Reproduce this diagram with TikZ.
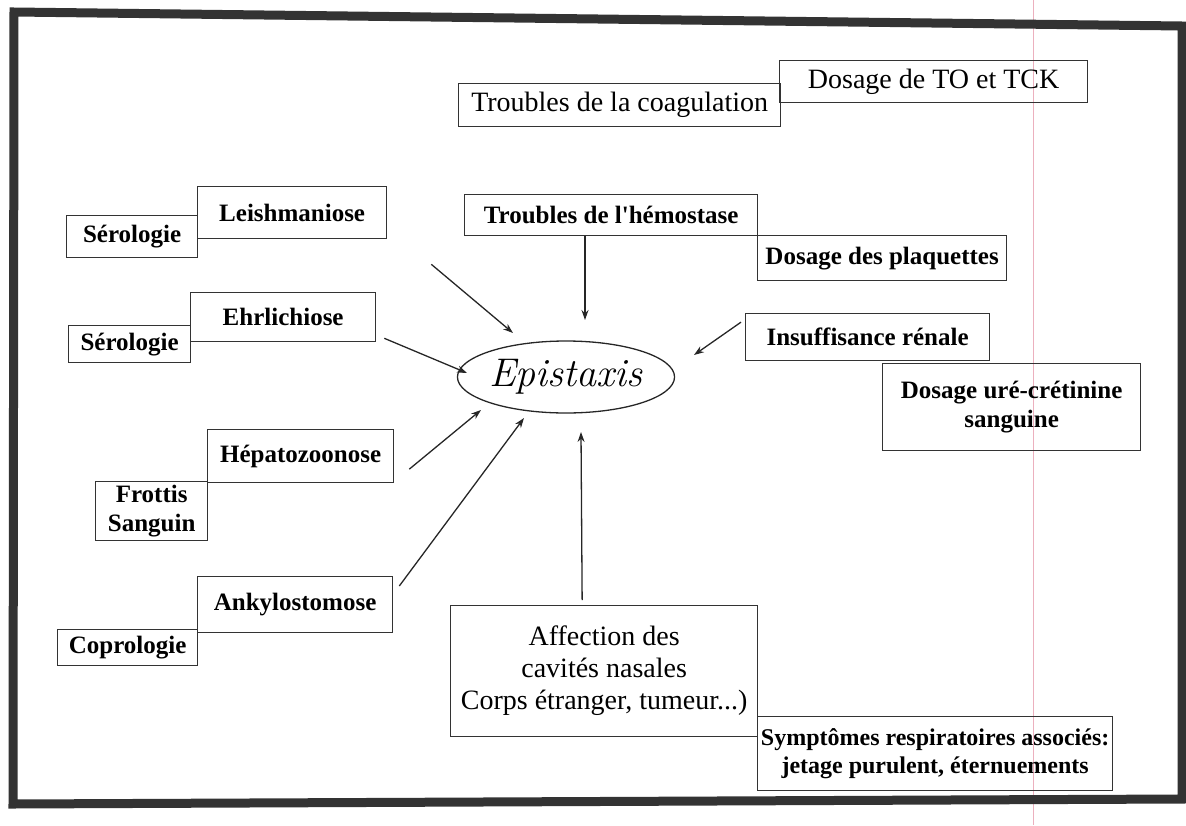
\documentclass[tikz,border=0pt]{standalone}
\usepackage{fontspec}
\setmainfont{Liberation Serif}
\newfontfamily\plainserif{Liberation Serif}
\usetikzlibrary{calc,arrows.meta,shapes.geometric}
\definecolor{marginpink}{RGB}{236,176,190}
\tikzset{
  box/.style={draw=black!80, line width=1.3pt, rectangle, inner sep=0pt,
    anchor=north west, align=center, font=\fontsize{25}{29}\selectfont\bfseries},
  plainbox/.style={box, font=\fontsize{28}{32}\selectfont},
  arr/.style={draw=black!85, line width=1.3pt, -{Stealth[length=10pt,width=7pt]}},
}

\begin{document}
\begin{tikzpicture}[x=1pt, y=-1pt]
		%%%%% START %%%%%
		\useasboundingbox (0,0) rectangle (1186,825);
		
		% scan frame and margin line
		\draw[marginpink, line width=0.8pt] (1033,0) -- (1033,825);
		\draw[line width=9pt, black!80] (14,12) -- (1182,26) -- (1182,799) -- (13,804) -- cycle;
		
		% centre
		\node[draw=black!85, line width=1.3pt, ellipse, inner sep=0pt,
		  minimum width=196pt, minimum height=72pt,
		  font=\fontsize{40}{44}\selectfont\fontfamily{lmr}\itshape] (epi) at (566,377) {Epistaxis};
		
		% top
		\node[plainbox, minimum width=322pt, minimum height=43pt] (coag) at (458,83) {Troubles de la coagulation};
		\node[plainbox, minimum width=308pt, minimum height=42pt] (tock) at (779,60) {Dosage de TO et TCK};
		\node[box, minimum width=293pt, minimum height=41pt] (hemo) at (464,194) {Troubles de l{\plainserif'}hémostase};
		\node[box, minimum width=249pt, minimum height=45pt] (plaq) at (757,235) {Dosage des plaquettes};
		
		% left
		\node[box, minimum width=189pt, minimum height=52pt] (leish) at (197,186) {Leishmaniose};
		\node[box, minimum width=131pt, minimum height=42pt] (sero1) at (66,215) {Sérologie};
		\node[box, minimum width=185pt, minimum height=49pt] (ehrl) at (190,292) {Ehrlichiose};
		\node[box, minimum width=122pt, minimum height=37pt] (sero2) at (68,325) {Sérologie};
		\node[box, minimum width=186pt, minimum height=53pt] (hepa) at (207,429) {Hépatozoonose};
		\node[box, minimum width=112pt, minimum height=59pt] (frot) at (95,481) {Frottis\\Sanguin};
		\node[box, minimum width=195pt, minimum height=56pt] (anky) at (197,576) {Ankylostomose};
		\node[box, minimum width=140pt, minimum height=36pt] (copro) at (57,629) {Coprologie};
		
		% right
		\node[box, minimum width=244pt, minimum height=47pt] (insuf) at (745,313) {Insuffisance rénale};
		\node[box, minimum width=258pt, minimum height=87pt] (uree) at (882,363) {Dosage uré-crétinine\\sanguine};
		
		% bottom
		\node[plainbox, minimum width=307pt, minimum height=131pt] (affec) at (450,605) {Affection des\\cavités nasales\\Corps étranger, tumeur...)};
		\node[box, font=\fontsize{24}{28}\selectfont\bfseries, minimum width=355pt, minimum height=74pt] (sympt) at (757,716) {Symptômes respiratoires associés:\\jetage purulent, éternuements};
		
		% arrow ends
		\coordinate (leish-t) at ($(leish.south east)+(44,25)$);
		\coordinate (leish-h) at ($(epi.center)+(-53,-44)$);
		\coordinate (ehrl-t) at ($(ehrl.south east)+(8,-4)$);
		\coordinate (ehrl-h) at ($(epi.center)+(-99,-4)$);
		\coordinate (hemo-t) at (hemo.south -| 585,0);
		\coordinate (hemo-h) at ($(epi.center)+(19,-57)$);
		\coordinate (insuf-t) at ($(insuf.west)+(-4,-15)$);
		\coordinate (insuf-h) at ($(epi.center)+(128,-22)$);
		\coordinate (hepa-t) at ($(hepa.east)+(15,13)$);
		\coordinate (hepa-h) at ($(epi.center)+(-85,33)$);
		\coordinate (anky-t) at ($(anky.north east)+(6,10)$);
		\coordinate (anky-h) at ($(epi.center)+(-42,41)$);
		\coordinate (affec-t) at ($(affec.north)+(-22,-5)$);
		\coordinate (affec-h) at ($(epi.center)+(15,55)$);
		
		\draw[arr] (leish-t) -- (leish-h);
		\draw[arr] (ehrl-t) -- (ehrl-h);
		\draw[arr] (hemo-t) -- (hemo-h);
		\draw[arr] (insuf-t) -- (insuf-h);
		\draw[arr] (hepa-t) -- (hepa-h);
		\draw[arr] (anky-t) -- (anky-h);
		\draw[arr] (affec-t) -- (affec-h);
		
		%%%%% END %%%%%
\end{tikzpicture}
\end{document}
